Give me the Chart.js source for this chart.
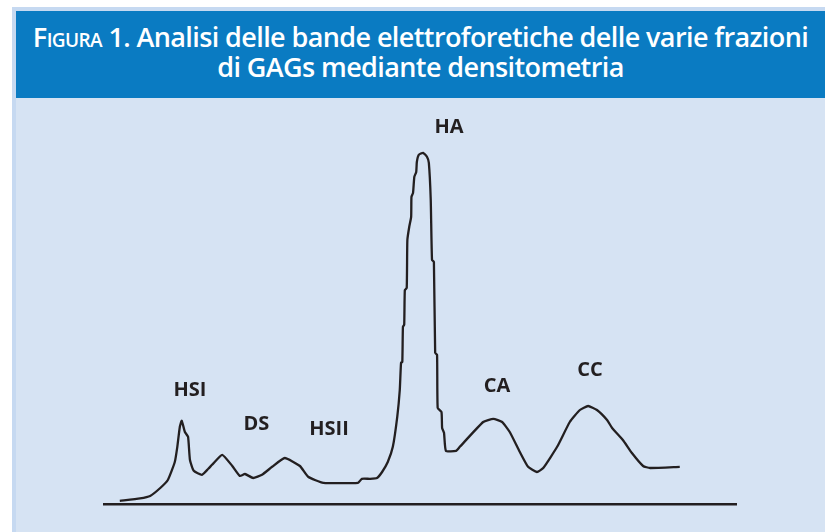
<!DOCTYPE html>
<html>
<head>
<meta charset="utf-8">
<script src="https://cdn.jsdelivr.net/npm/chart.js@4/dist/chart.umd.min.js"></script>
<style>
  html, body { margin: 0; padding: 0; background: #fff; }
  body { width: 825px; height: 532px; position: relative; overflow: hidden; }
  #frame { position: absolute; left: 12px; top: 7px; width: 813px; height: 525px; background: #c6d9f1; }
  #head {
    position: absolute; left: 4px; top: 4px; width: 809px; height: 87px;
    background: #0a7bc2; color: #fff; text-align: center;
    font-family: "Open Sans", sans-serif; font-weight: 600; font-size: 27px;
    line-height: 30px; letter-spacing: -0.6px; padding-top: 11px; box-sizing: border-box;
  }
  #head .sc { font-variant: small-caps; }
  #panel { position: absolute; left: 4px; top: 91px; width: 809px; height: 434px; background: #d6e3f3; }
</style>
</head>
<body>
<div id="frame">
  <div id="head"><span class="sc">Figura 1.</span> Analisi delle bande elettroforetiche delle varie frazioni<br>di GAGs mediante densitometria</div>
  <div id="panel"><canvas id="chart" width="809" height="434"></canvas></div>
</div>
<script>
// densitometric trace: migration distance (0-100) vs optical density (0-100)
const migration = [
  2.5, 5.7, 7.3, 8.9, 10.1, 11.2, 11.6, 12.0, 12.3, 12.8, 13.3, 13.6, 14.2, 15.5, 16.5, 17.1,
  18.7, 20.3, 21.5, 22.3, 23.6, 25.0, 26.6, 28.6, 31.0, 32.3, 34.7, 40.2, 40.8, 42.1, 43.2,
  44.0, 44.9, 45.7, 46.4, 46.8, 47.0, 47.2, 47.3, 47.5, 47.6, 47.9, 48.0, 48.3, 48.6, 48.65,
  48.9, 49.1, 49.4, 49.5, 49.8, 50.5, 51.1, 51.4, 51.7, 51.9, 52.2, 52.4, 52.7, 52.8, 53.4,
  53.5, 53.8, 54.1, 55.7, 56.3, 60.0, 61.6, 63.0, 64.2, 65.8, 67.1, 68.5, 69.5, 71.7, 73.7,
  75.3, 76.6, 78.0, 79.6, 80.4, 82.1, 83.5, 85.3, 86.4, 91.1,
];
const density = [
  0.8, 1.4, 2.0, 4.0, 6.0, 10.5, 14.3, 19.3, 20.8, 18.0, 16.8, 11.0, 8.3, 7.3, 8.8, 9.8,
  12.3, 9.5, 7.0, 7.5, 6.5, 7.3, 9.3, 11.5, 9.5, 6.8, 5.3, 5.3, 6.3, 6.3, 6.5,
  8.0, 10.5, 14.3, 21.8, 28.5, 35.3, 35.5, 44.3, 44.8, 53.5, 54.0, 66.0, 69.3, 71.8, 76.8,
  77.8, 81.8, 83.0, 85.5, 87.3, 87.8, 86.8, 85.3, 76.0, 61.0, 60.5, 37.8, 37.3, 24.0, 23.0,
  19.0, 17.8, 13.3, 13.3, 14.3, 20.5, 21.3, 20.5, 18.0, 13.0, 9.3, 8.0, 9.0, 14.3, 20.5,
  23.5, 24.5, 23.5, 21.0, 19.0, 16.0, 12.8, 9.5, 9.0, 9.3,
];

// band names and where their labels sit (same units as the trace)
const bands = ['HSI', 'DS', 'HSII', 'HA', 'CA', 'CC'];
const bandX = [13.6, 24.1, 35.6, 54.6, 62.2, 76.9];
const bandY = [28.5, 20.0, 18.8, 94.3, 29.5, 33.5];

const ink = '#231f20';

const bandLabels = {
  id: 'bandLabels',
  afterDatasetsDraw(chart) {
    const { ctx, scales: { x, y } } = chart;
    ctx.save();
    ctx.fillStyle = ink;
    ctx.font = 'bold 20px "Open Sans", sans-serif';
    ctx.textAlign = 'center';
    ctx.textBaseline = 'middle';
    bands.forEach((name, i) => ctx.fillText(name, x.getPixelForValue(bandX[i]), y.getPixelForValue(bandY[i])));
    ctx.restore();
  },
};

new Chart(document.getElementById('chart'), {
  type: 'line',
  data: {
    datasets: [{
      data: migration.map((m, i) => ({ x: m, y: density[i] })),
      borderColor: ink,
      borderWidth: 2.3,
      tension: 0.15,
      pointRadius: 0,
      fill: false,
    }],
  },
  options: {
    responsive: false,
    animation: false,
    layout: { padding: { left: 88, right: 89, top: 6, bottom: 28 } },
    plugins: { legend: { display: false }, tooltip: { enabled: false } },
    scales: {
      x: {
        type: 'linear', min: 0, max: 100,
        ticks: { display: false },
        grid: { display: false, drawTicks: false },
        border: { display: true, color: ink, width: 2.5 },
      },
      y: { display: false, min: 0, max: 100 },
    },
  },
  plugins: [bandLabels],
});
</script>
</body>
</html>
